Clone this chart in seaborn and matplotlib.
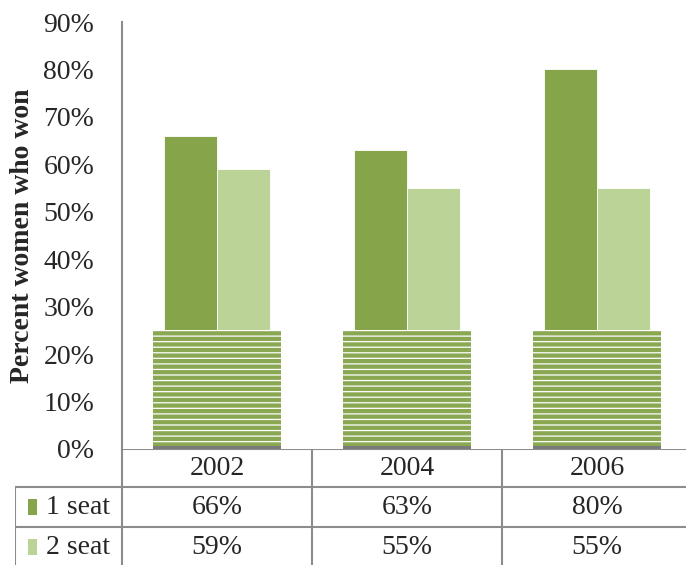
import numpy as np
import pandas as pd
import matplotlib
matplotlib.use("Agg")
import matplotlib.pyplot as plt
from matplotlib.patches import Rectangle
import seaborn as sns

years = ['2002', '2004', '2006']
one_seat = [66, 63, 80]
two_seat = [59, 55, 55]
series_names = ['1 seat', '2 seat']
colors = ['#86A44A', '#BBD396']

df = pd.DataFrame({
    'year': years * 2,
    'value': one_seat + two_seat,
    'series': [series_names[0]] * 3 + [series_names[1]] * 3,
})

sns.set_theme(style="white")
plt.rcParams['font.family'] = ['Liberation Serif', 'DejaVu Serif']
plt.rcParams['hatch.color'] = 'white'
plt.rcParams['hatch.linewidth'] = 0.9

W, H = 686, 565
fig = plt.figure(figsize=(W / 100, H / 100), dpi=100)

# main plot area (pixel layout)
ax = fig.add_axes([122 / W, 1 - 449 / H, 570 / W, (449 - 22) / H])
sns.barplot(data=df, x='year', y='value', hue='series', palette=colors,
            saturation=1, width=0.56, ax=ax, edgecolor='white', linewidth=0.6)
ax.get_legend().remove()
ax.set_xlim(-0.5, 2.5)
ax.set_ylim(0, 90)
ax.set_yticks(range(0, 91, 10))
ax.set_yticklabels([f'{v}%' for v in range(0, 91, 10)], fontsize=20)
ax.set_xticks([])
ax.set_xlabel('')
ax.set_ylabel('Percent women who won', fontsize=20, fontweight='bold')
ax.yaxis.set_label_coords(-87 / 570, 0.5)
ax.tick_params(axis='y', length=0, pad=20)
for s in ['top', 'right', 'bottom']:
    ax.spines[s].set_visible(False)
ax.spines['left'].set_color('#8c8c8c')
ax.spines['left'].set_linewidth(1.5)

# striped texture band on the lower part of each group
texture_top = 25
for i in range(len(years)):
    ax.add_patch(Rectangle((i - 0.337, 0), 0.674, texture_top,
                           facecolor='#8AA852', edgecolor='white',
                           hatch='---', linewidth=0, zorder=3))
    ax.plot([i - 0.337, i + 0.337], [0.3, 0.3], color='#7a7a7a', lw=3,
            zorder=4, solid_capstyle='butt')

# data table below
tax = fig.add_axes([15 / W, 0, 677 / W, (565 - 449) / H])
left = -0.5 - 107 / 190
tax.set_xlim(left, 2.5)
tax.set_ylim(3, 0)
tax.axis('off')
lc = '#8c8c8c'
lw = 1.5
tax.plot([-0.5, 2.5], [0, 0], color=lc, lw=lw)
for y in [0.98, 2.02]:
    tax.plot([left, 2.5], [y, y], color=lc, lw=lw)
tax.plot([left, left], [0.98, 3], color=lc, lw=lw)
for x in [-0.5, 0.5, 1.5]:
    tax.plot([x, x], [0, 3], color=lc, lw=lw)

for i, yr in enumerate(years):
    tax.text(i, 0.5, yr, ha='center', va='center', fontsize=20)
rows = [one_seat, two_seat]
for r, (name, vals) in enumerate(zip(series_names, rows)):
    yc = 1.5 + r * 1.04
    tax.add_patch(Rectangle((-0.995, yc - 0.2), 0.048, 0.4,
                            facecolor=colors[r], edgecolor='none'))
    tax.text(-0.9, yc, name, ha='left', va='center', fontsize=20)
    for i, v in enumerate(vals):
        tax.text(i, yc, f'{v}%', ha='center', va='center', fontsize=20)

fig.savefig('out.png', dpi=100)
